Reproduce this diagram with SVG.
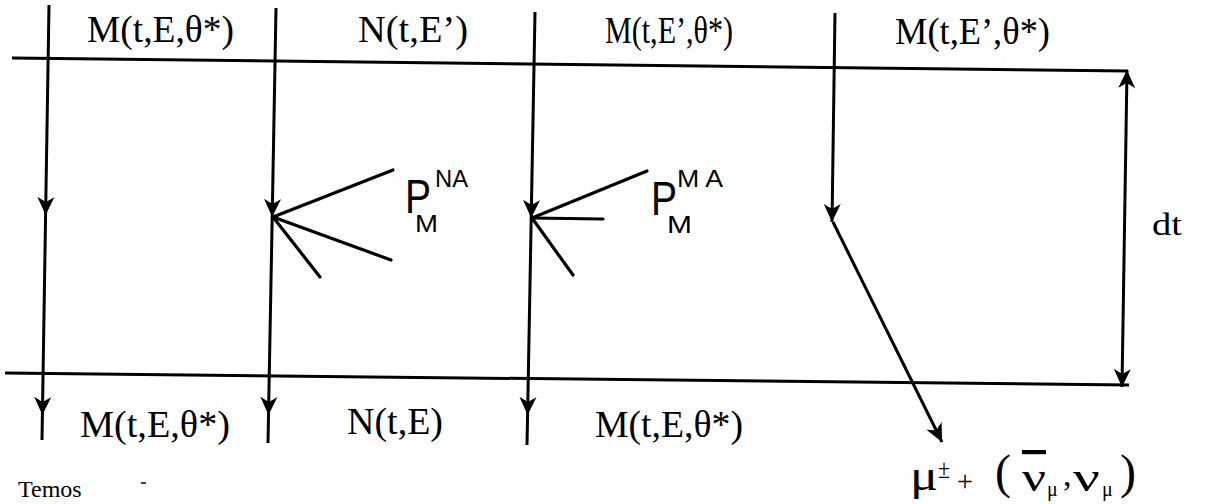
<svg xmlns="http://www.w3.org/2000/svg" width="1211" height="504" viewBox="0 0 1211 504">
<style>
  .ln { stroke:#000; stroke-width:3; fill:none; stroke-linecap:butt; }
  .fan { stroke:#000; stroke-width:3.2; fill:none; stroke-linecap:round; }
  .lbl { font-family:"Liberation Serif","Times New Roman",serif; font-size:37px; fill:#000; }
  .sans { font-family:"Liberation Sans",Arial,sans-serif; fill:#000; }
  .ser { font-family:"Liberation Serif","DejaVu Serif",serif; fill:#000; }
</style>
<defs>
  <marker id="ah" viewBox="-20 -10 22 20" markerWidth="22" markerHeight="20" refX="0" refY="0" orient="auto-start-reverse" markerUnits="userSpaceOnUse">
    <path d="M0,0 L-18,-8.5 L-13,0 L-18,8.5 Z" fill="#000"/>
  </marker>
</defs>
<rect width="1211" height="504" fill="#fff"/>

<g id="frame">
  <line class="ln" x1="12" y1="58" x2="1128" y2="71"/>
  <line class="ln" x1="5" y1="373" x2="1129" y2="385"/>
</g>

<g id="connectors">
  <polyline class="ln" points="49,5 45.6,215 42.4,415 42,440" marker-mid="url(#ah)"/>
  <polyline class="ln" points="276,8 272.2,217 268.5,415 268,443" marker-mid="url(#ah)"/>
  <polyline class="ln" points="535,12 531.2,218 527.6,415 527,445" marker-mid="url(#ah)"/>
  <path class="ln" d="M835,13 L832,222" marker-end="url(#ah)"/>
  <path class="ln" d="M833,222 L942,442" marker-end="url(#ah)"/>
  <path class="ln" d="M1127,70 L1122,387" marker-start="url(#ah)" marker-end="url(#ah)"/>
  <g id="fanNA">
    <line class="fan" x1="273" y1="217" x2="393" y2="170"/>
    <line class="fan" x1="273" y1="217" x2="391" y2="260"/>
    <line class="fan" x1="273" y1="217" x2="320" y2="277"/>
  </g>
  <g id="fanMA">
    <line class="fan" x1="532" y1="218" x2="647" y2="171"/>
    <line class="fan" x1="532" y1="218" x2="603" y2="219"/>
    <line class="fan" x1="532" y1="218" x2="573" y2="275"/>
  </g>
</g>

<g id="top-labels">
  <text id="t1" class="lbl" x="87" y="42" textLength="147" lengthAdjust="spacingAndGlyphs">M(t,E,θ*)</text>
  <text id="t2" class="lbl" x="358" y="42" textLength="110" lengthAdjust="spacingAndGlyphs">N(t,E’)</text>
  <text id="t3" class="lbl" x="605" y="43" textLength="128" lengthAdjust="spacingAndGlyphs">M(t,E’,θ*)</text>
  <text id="t4" class="lbl" x="895" y="44" textLength="155" lengthAdjust="spacingAndGlyphs">M(t,E’,θ*)</text>
</g>

<g id="bottom-labels">
  <text id="b1" class="lbl" x="80" y="437" textLength="150" lengthAdjust="spacingAndGlyphs">M(t,E,θ*)</text>
  <text id="b2" class="lbl" x="347" y="434" textLength="96" lengthAdjust="spacingAndGlyphs">N(t,E)</text>
  <text id="b3" class="lbl" x="595" y="437" textLength="148" lengthAdjust="spacingAndGlyphs">M(t,E,θ*)</text>
</g>

<g id="P-NA">
  <text class="sans" x="405" y="213" font-size="48" textLength="26" lengthAdjust="spacingAndGlyphs">P</text>
  <text class="sans" x="435" y="187" font-size="23" textLength="33" lengthAdjust="spacingAndGlyphs">NA</text>
  <text class="sans" x="415" y="232" font-size="23" textLength="23" lengthAdjust="spacingAndGlyphs">M</text>
</g>

<g id="P-MA">
  <text class="sans" x="651" y="215" font-size="48" textLength="26" lengthAdjust="spacingAndGlyphs">P</text>
  <text class="sans" x="677" y="187" font-size="23" textLength="46" lengthAdjust="spacingAndGlyphs">M A</text>
  <text class="sans" x="667" y="233" font-size="23" textLength="25" lengthAdjust="spacingAndGlyphs">M</text>
</g>

<g id="dt">
  <text class="ser" x="1152" y="235" font-size="31" textLength="30" lengthAdjust="spacingAndGlyphs">dt</text>
</g>

<g id="decay">
  <text class="ser" x="910" y="490" font-size="44" textLength="28" lengthAdjust="spacingAndGlyphs">μ</text>
  <text class="ser" x="938" y="478" font-size="28" textLength="12" lengthAdjust="spacingAndGlyphs">±</text>
  <text class="ser" x="957" y="491" font-size="30" textLength="16" lengthAdjust="spacingAndGlyphs">+</text>
  <text class="ser" x="995" y="488" font-size="48">(</text>
  <text class="ser" x="1022" y="491" font-size="42" textLength="24" lengthAdjust="spacingAndGlyphs" text-decoration="overline">ν</text>
  <text class="ser" x="1047" y="496" font-size="20">μ</text>
  <text class="ser" x="1063" y="486" font-size="34">,</text>
  <text class="ser" x="1073" y="491" font-size="42" textLength="27" lengthAdjust="spacingAndGlyphs">ν</text>
  <text class="ser" x="1102" y="496" font-size="20">μ</text>
  <text class="ser" x="1120" y="488" font-size="48">)</text>
</g>

<g id="footer">
  <line x1="141" y1="483" x2="146" y2="483" stroke="#000" stroke-width="1.5"/>
  <text class="ser" x="18" y="497" font-size="24">Temos</text>
</g>
</svg>
